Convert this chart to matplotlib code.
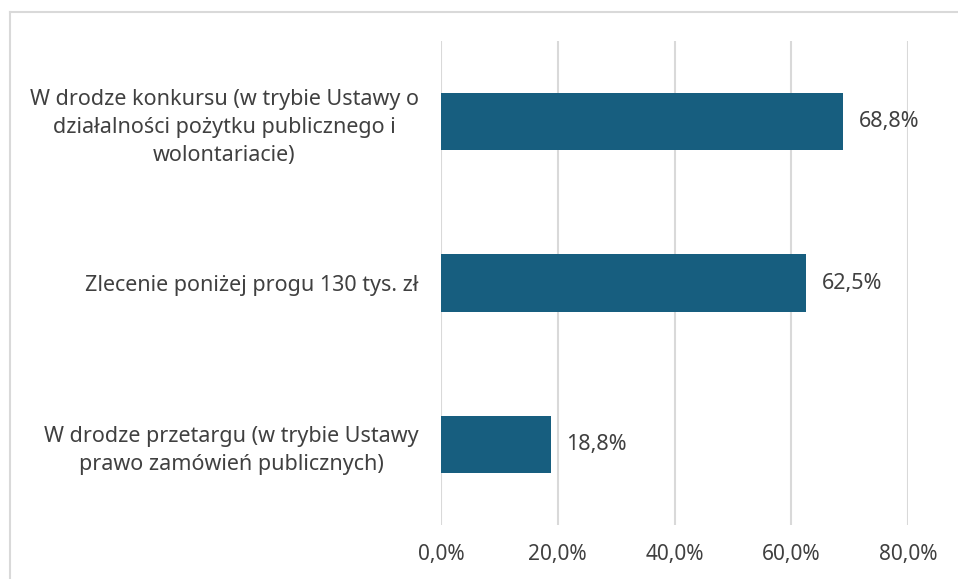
import matplotlib.pyplot as plt
from matplotlib.lines import Line2D

categories = [
    "W drodze konkursu (w trybie Ustawy o\ndziałalności pożytku publicznego i\nwolontariacie)",
    "Zlecenie poniżej progu 130 tys. zł",
    "W drodze przetargu (w trybie Ustawy\nprawo zamówień publicznych)",
]
values = [68.8, 62.5, 18.8]
xticks = [0, 20, 40, 60, 80]

plt.rcParams['font.family'] = ['Noto Sans', 'DejaVu Sans']
text_color = "#404040"
bar_color = "#175e7f"
grid_color = "#d9d9d9"

fig = plt.figure(figsize=(9.58, 5.79), dpi=100)
ax = fig.add_axes([441 / 958, 1 - 525 / 579, (908 - 441) / 958, (525 - 41) / 579])

ypos = list(range(len(categories)))
ax.barh(ypos, values, height=0.355, color=bar_color, zorder=3)
for y, v in zip(ypos, values):
    ax.text(v + 2.7, y, f"{v:.1f}%".replace(".", ","), va="center", ha="left",
            fontsize=15.5, color=text_color)

ax.set_xlim(0, 80)
ax.set_ylim(2.5, -0.5)
ax.set_xticks(xticks)
ax.set_xticklabels([f"{t:.1f}%".replace(".", ",") for t in xticks], fontsize=15)
ax.set_yticks(ypos)
ax.set_yticklabels(categories, ha="right", multialignment="center",
                   fontsize=15.5, linespacing=1.45)

ax.tick_params(axis="both", length=0, labelcolor=text_color)
ax.tick_params(axis="y", pad=16)
ax.tick_params(axis="x", pad=14)
ax.xaxis.grid(True, color=grid_color, linewidth=1.5, zorder=0)
ax.set_axisbelow(True)
for s in ax.spines.values():
    s.set_visible(False)

# outer frame (top and left edges visible in the crop)
fig.add_artist(Line2D([10 / 958, 1], [1 - 12 / 579, 1 - 12 / 579], color=grid_color, linewidth=1.5))
fig.add_artist(Line2D([10 / 958, 10 / 958], [0, 1 - 12 / 579], color=grid_color, linewidth=1.5))

plt.savefig("out.png", dpi=100)
